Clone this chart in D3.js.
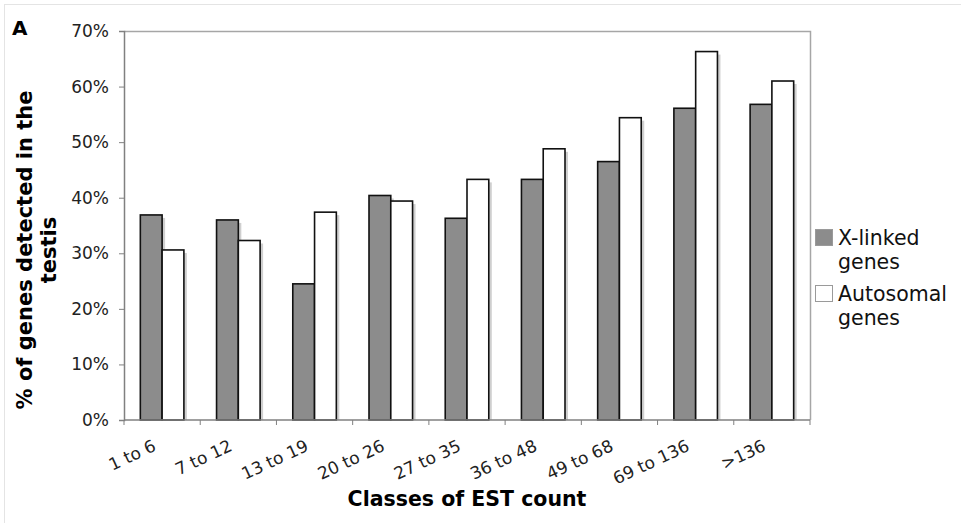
<!DOCTYPE html>
<html>
<head>
<meta charset="utf-8">
<script src="https://cdn.jsdelivr.net/npm/d3@7/dist/d3.min.js"></script>
<style>
  body { margin: 0; background: #fff; }
  text { font-family: "DejaVu Sans", Verdana, sans-serif; }
</style>
</head>
<body>
<div id="chart"></div>
<script>
// data (percent of genes detected in the testis)
const classes = ["1 to 6", "7 to 12", "13 to 19", "20 to 26", "27 to 35", "36 to 48", "49 to 68", "69 to 136", ">136"];
const xLinked = [36.9, 36.0, 24.5, 40.4, 36.3, 43.3, 46.5, 56.1, 56.8];
const autosomal = [30.6, 32.3, 37.4, 39.4, 43.3, 48.8, 54.4, 66.3, 61.0];
const yTicks = [0, 10, 20, 30, 40, 50, 60, 70];
const seriesNames = ["X-linked", "Autosomal"];
const seriesColors = ["#8c8c8c", "#ffffff"];

const width = 961, height = 523;
const margin = { top: 31, right: 151, bottom: 103, left: 124 };
const innerW = width - margin.left - margin.right;
const innerH = height - margin.top - margin.bottom;

const svg = d3.select("#chart").append("svg")
  .attr("width", width)
  .attr("height", height);

// outer frame
svg.append("rect")
  .attr("x", 4.5).attr("y", 4.5)
  .attr("width", width).attr("height", height)
  .attr("fill", "none")
  .attr("stroke", "#e4e4e4");

svg.append("text")
  .attr("x", 12).attr("y", 35)
  .style("font-size", "20px").style("font-weight", "bold")
  .text("A");

const chart = svg.append("g")
  .attr("transform", `translate(${margin.left},${margin.top})`);

const x0 = d3.scaleBand().domain(classes).range([0, innerW]).paddingInner(0).paddingOuter(0);
// two bars with a 150% gap
const barW = x0.bandwidth() / 3.5;
const x1 = d3.scaleBand().domain(seriesNames).range([0.75 * barW, 2.75 * barW]);
const y = d3.scaleLinear().domain([0, 70]).range([innerH, 0]);

// plot frame (top/right)
chart.append("path")
  .attr("d", `M0.5,0.5H${innerW + 0.5}V${innerH}`)
  .attr("fill", "none")
  .attr("stroke", "#a6a6a6")
  .attr("stroke-width", 1.5);

const rows = classes.map((c, i) => ({ c, vals: [xLinked[i], autosomal[i]] }));

const groups = chart.selectAll(".grp").data(rows).enter().append("g")
  .attr("class", "grp")
  .attr("transform", d => `translate(${x0(d.c)},0)`);

const bars = groups.selectAll(".bar")
  .data(d => d.vals.map((v, k) => ({ v, k })))
  .enter();

// soft shadow
bars.append("rect")
  .attr("x", d => x1(seriesNames[d.k]) + 3)
  .attr("y", d => y(d.v) + 3)
  .attr("width", barW)
  .attr("height", d => innerH - y(d.v) - 3)
  .attr("fill", "#cfcfcf");

bars.append("rect")
  .attr("class", "bar")
  .attr("x", d => x1(seriesNames[d.k]))
  .attr("y", d => y(d.v))
  .attr("width", barW)
  .attr("height", d => innerH - y(d.v))
  .attr("fill", d => seriesColors[d.k])
  .attr("stroke", "#111")
  .attr("stroke-width", 1.6);

// y axis
const yAxis = d3.axisLeft(y).tickValues(yTicks).tickSize(5).tickPadding(10)
  .tickFormat(d => d + "%");
const yg = chart.append("g").call(yAxis);
yg.select(".domain").attr("stroke", "#808080").attr("stroke-width", 1.5);
yg.selectAll(".tick line").attr("stroke", "#808080");
yg.selectAll("text").style("font-size", "17px").attr("fill", "#222")
  .attr("font-family", "DejaVu Sans, sans-serif");

// x axis: ticks at category boundaries
const xg = chart.append("g").attr("transform", `translate(0,${innerH})`);
xg.append("line").attr("x1", 0).attr("x2", innerW)
  .attr("stroke", "#808080").attr("stroke-width", 1.5);
xg.selectAll(".xt").data(d3.range(classes.length + 1)).enter().append("line")
  .attr("x1", i => i * x0.step()).attr("x2", i => i * x0.step())
  .attr("y1", 0).attr("y2", 5)
  .attr("stroke", "#808080");
xg.selectAll(".xl").data(classes).enter().append("text")
  .attr("transform", d => `translate(${x0(d) + x0.bandwidth() / 2 - 5},${30}) rotate(-25)`)
  .attr("text-anchor", "end")
  .style("font-size", "17px").attr("fill", "#222")
  .text(d => d);

// axis titles
svg.append("text")
  .attr("x", 467).attr("y", 506)
  .attr("text-anchor", "middle")
  .style("font-size", "20.5px").style("font-weight", "bold")
  .text("Classes of EST count");

const yTitle = svg.append("text")
  .attr("transform", "translate(32,250) rotate(-90)")
  .attr("text-anchor", "middle")
  .style("font-size", "21px").style("font-weight", "bold");
yTitle.append("tspan").attr("x", 0).attr("dy", 0).text("% of genes detected in the");
yTitle.append("tspan").attr("x", 0).attr("dy", 24).text("testis");

// legend
const legend = svg.append("g").attr("transform", "translate(815,229)");
const items = legend.selectAll(".li").data(seriesNames).enter().append("g")
  .attr("transform", (d, i) => `translate(0,${i * 56})`);
items.append("rect")
  .attr("x", 0.5).attr("y", 0.5).attr("width", 17).attr("height", 16)
  .attr("fill", (d, i) => seriesColors[i])
  .attr("stroke", "#9a9a9a");
const lt = items.append("text")
  .attr("x", 23).attr("y", 16)
  .style("font-size", "20.5px").attr("fill", "#111");
lt.append("tspan").attr("x", 23).text(d => d);
lt.append("tspan").attr("x", 23).attr("dy", 24).text("genes");
</script>
</body>
</html>
